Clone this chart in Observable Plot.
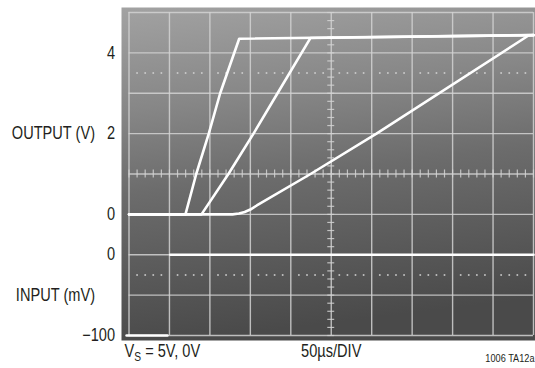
<!DOCTYPE html>
<html><head><meta charset="utf-8">
<script src="https://cdn.jsdelivr.net/npm/d3@7"></script>
<script src="https://cdn.jsdelivr.net/npm/@observablehq/plot@0.6"></script>
<style>body{margin:0;background:#fff}svg{display:block}</style>
</head><body><div id="chart"></div>
<script>
// ---- data (time in µs, 50µs/DIV) ----
const trace1TimeUs = [0, 69.8, 83.1, 98.6, 112.7, 136.2, 500];
const trace1Volts  = [0, 0, 1, 2, 3, 4.35, 4.44];
const trace2TimeUs = [0, 89.6, 122.9, 153.9, 183.6, 224.4, 500];
const trace2Volts  = [0, 0, 1, 2, 3, 4.37, 4.44];
const trace3TimeUs = [0, 128, 136, 143, 150, 158, 224.4, 305.9, 493.8, 500];
const trace3Volts  = [0, 0, 0.02, 0.06, 0.12, 0.22, 1.0, 2.0, 4.43, 4.44];
const inputTimeUs  = [-3, 47.5, 51, 500];
const inputMilliV  = [-100, -100, 0, 0];
const inputPart    = ["low", "low", "high", "high"];

const outputTickVolts = [4, 2, 0];
const inputTickMilliV = [0, -100];
const outputTitle = "OUTPUT (V)";
const inputTitle = "INPUT (mV)";
const supplyNote = "VS = 5V, 0V";
const timebaseNote = "50µs/DIV";
const figureId = "1006 TA12a";

// screen divisions: output 1V/DIV (0V at -1 div), input 50mV/DIV (0mV at -2 div)
const outDiv = v => v - 1;
const inDiv = mv => -2 + mv / 50;

const toRows = (ts, vs, map, z) => ts.map((t, i) => ({t, y: map(vs[i]), z: z ? z[i] : "a"}));
const trace1 = toRows(trace1TimeUs, trace1Volts, outDiv);
const trace2 = toRows(trace2TimeUs, trace2Volts, outDiv);
const trace3 = toRows(trace3TimeUs, trace3Volts, outDiv);
const input = toRows(inputTimeUs, inputMilliV, inDiv, inputPart);

const gridTimes = d3.range(0, 501, 50);
const gridDivs = d3.range(-4, 5, 1);
const fineTimes = d3.range(0, 501, 10);
const fineDivs = d3.range(-20, 21).map(i => i / 5);
const dotTimes = d3.range(0, 501, 10).filter(t => t % 50 !== 0);
const dotted = dotTimes.flatMap(t => [{t, y: 2.5}, {t, y: -2.5}]);

const font = "'Liberation Sans', Arial, sans-serif";
const grid = "#d2d2d2";
const trace = "#ffffff";
const ink = "#231f20";
const fs = 17.8;

const chart = Plot.plot({
  width: 535, height: 368,
  marginLeft: 128.5, marginRight: 2, marginTop: 12, marginBottom: 33,
  x: {domain: [0, 500], axis: null},
  y: {domain: [-4, 4], axis: null},
  style: {background: "#fff", fontFamily: font, color: ink},
  marks: [
    Plot.frame({fill: "url(#screenGrad)", insetLeft: -7.5, insetTop: -5, insetRight: -2, insetBottom: -5}),
    Plot.ruleX(gridTimes, {stroke: grid, strokeWidth: 1.4, strokeOpacity: 0.85}),
    Plot.ruleY(gridDivs, {stroke: grid, strokeWidth: 1.4, strokeOpacity: 0.85}),
    Plot.ruleX(fineTimes, {x: d => d, y1: -0.1, y2: 0.1, stroke: grid, strokeWidth: 1.2, strokeOpacity: 0.85}),
    Plot.ruleY(fineDivs, {y: d => d, x1: 245.7, x2: 254.3, stroke: grid, strokeWidth: 1.2, strokeOpacity: 0.85}),
    Plot.dot(dotted, {x: "t", y: "y", r: 1, fill: grid, fillOpacity: 0.85, stroke: null}),
    Plot.line(input, {x: "t", y: "y", z: "z", stroke: trace, strokeWidth: 2.6}),
    Plot.line(trace3, {x: "t", y: "y", stroke: trace, strokeWidth: 2.6}),
    Plot.line(trace2, {x: "t", y: "y", stroke: trace, strokeWidth: 2.6}),
    Plot.line(trace1, {x: "t", y: "y", stroke: trace, strokeWidth: 2.6}),
    Plot.text(outputTickVolts, {y: d => outDiv(d), text: d => String(d), frameAnchor: "left", textAnchor: "end", dx: -14, fontSize: fs, fill: ink}),
    Plot.text(inputTickMilliV, {y: d => inDiv(d), text: d => d < 0 ? "\u2212" + Math.abs(d) : String(d), frameAnchor: "left", textAnchor: "end", dx: -14, fontSize: fs, fill: ink}),
    Plot.text([outputTitle], {y: outDiv(2), text: d => d, frameAnchor: "left", textAnchor: "end", dx: -34, fontSize: fs, fill: ink}),
    Plot.text([inputTitle], {y: inDiv(-50), text: d => d, frameAnchor: "left", textAnchor: "end", dx: -34, fontSize: fs, fill: ink}),
    Plot.text([supplyNote], {text: d => d, frameAnchor: "bottom-left", textAnchor: "start", dx: -4.5, dy: 21.5, fontSize: fs, fill: ink}),
    Plot.text([timebaseNote], {x: 250, text: d => d, frameAnchor: "bottom", dy: 21.5, fontSize: fs, fill: ink}),
    Plot.text([figureId], {text: d => d, frameAnchor: "bottom-right", textAnchor: "end", dx: 1, dy: 26.5, fontSize: 11.2, fill: ink})
  ]
});

// screen gradient
const defs = d3.create("svg:defs");
const g = defs.append("linearGradient").attr("id", "screenGrad").attr("x1", 0).attr("y1", 0).attr("x2", 0.15).attr("y2", 1);
[[0, "#a2a2a2"], [0.3, "#878787"], [0.55, "#6c6c6c"], [1, "#4a4a4a"]].forEach(([o, c]) =>
  g.append("stop").attr("offset", o).attr("stop-color", c));
chart.insertBefore(defs.node(), chart.firstChild);

// subscript S in V_S
d3.select(chart).selectAll("text").filter(function() { return this.textContent === supplyNote; }).each(function() {
  const t = d3.select(this);
  t.text(null);
  t.append("tspan").text("V");
  t.append("tspan").attr("dy", 4).attr("font-size", 12.5).text("S");
  t.append("tspan").attr("dy", -4).text(" = 5V, 0V");
});

// condensed lettering (Helvetica Condensed look): narrow each label about its anchor
d3.select(chart).selectAll("text").each(function() {
  const tr = this.getAttribute("transform") || "";
  this.setAttribute("transform", tr + " scale(0.82,1)");
});

document.getElementById("chart").appendChild(chart);
</script>
</body></html>
